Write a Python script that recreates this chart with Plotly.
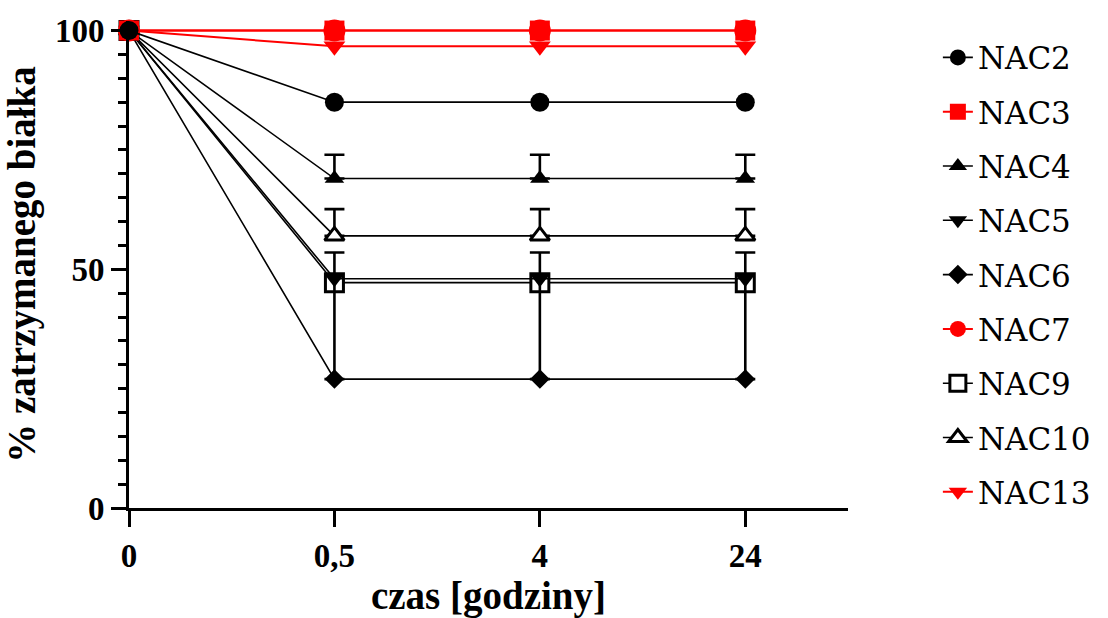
import plotly.graph_objects as go

x_labels = ["0", "0,5", "4", "24"]
x_pos = [0, 1, 2, 3]

nac2 = [100, 85, 85, 85]
nac3 = [100, 100, 100, 100]
nac4 = [100, 69, 69, 69]
nac5 = [100, 48, 48, 48]
nac6 = [100, 27, 27, 27]
nac7 = [100, 100, 100, 100]
nac9 = [100, 47.2, 47.2, 47.2]
nac10 = [100, 57, 57, 57]
nac13 = [100, 96.7, 96.7, 96.7]

err_nac4 = [0, 5, 5, 5]
err_nac6 = [0, 26.5, 26.5, 26.5]
err_nac10 = [0, 5.6, 5.6, 5.6]

BLACK = "#000000"
RED = "#ff0000"
FONT = "Times New Roman, Liberation Serif, DejaVu Serif, serif"
LEGFONT = "DejaVu Serif"

fig = go.Figure()


def add(name, rank, y, color, symbol, size, fill=None, mline=0, err=None, lw=1.6):
    err_y = None
    if err is not None:
        err_y = dict(type="data", symmetric=False, array=err, arrayminus=[0] * len(err),
                     color=BLACK, thickness=2.6, width=10)
    fig.add_trace(go.Scatter(
        x=x_pos, y=y, name=name, mode="lines+markers", legendrank=rank, legendgroup=name,
        line=dict(color=color, width=lw),
        marker=dict(symbol=symbol, size=size, color=fill if fill else color,
                    line=dict(color=color, width=mline)),
        error_y=err_y, cliponaxis=False,
    ))


# drawn in reverse order (last dataset at the bottom)
add("NAC13", 9, nac13, RED, "triangle-down", 19, lw=2)
add("NAC10", 8, nac10, BLACK, "triangle-up", 17, fill="white", mline=3, err=err_nac10)
add("NAC9", 7, nac9, BLACK, "square", 18, fill="white", mline=3)
add("NAC7", 6, nac7, RED, "circle", 22, lw=2)
add("NAC6", 5, nac6, BLACK, "diamond", 15, err=err_nac6)
add("NAC5", 4, nac5, BLACK, "triangle-down", 17)
add("NAC4", 3, nac4, BLACK, "triangle-up", 17, err=err_nac4)
add("NAC3", 2, nac3, RED, "square", 20, lw=2)
add("NAC2", 1, nac2, BLACK, "circle", 19)

fig.update_layout(
    width=1108, height=618,
    margin=dict(l=129, r=260, t=21, b=110, autoexpand=False),
    plot_bgcolor="white", paper_bgcolor="white",
    font=dict(family=FONT, color=BLACK),
    showlegend=True,
    legend=dict(x=1.125, y=0.98, xanchor="left", yanchor="top",
                traceorder="grouped", tracegroupgap=11, maxheight=610,
                font=dict(family=LEGFONT, size=31, color=BLACK),
                itemsizing="trace", itemwidth=30, bgcolor="rgba(0,0,0,0)"),
)

fig.update_xaxes(
    range=[0, 3.5], tickvals=x_pos, ticktext=x_labels,
    showline=True, linecolor=BLACK, linewidth=3,
    ticks="outside", ticklen=16, tickwidth=3, tickcolor=BLACK,
    showgrid=False, zeroline=False,
    tickfont=dict(family=FONT, size=33, color=BLACK, weight="bold"),
    title=dict(text="czas [godziny]", standoff=10,
               font=dict(family=FONT, size=39, color=BLACK, weight="bold")),
)
fig.update_yaxes(
    range=[0, 102], tickvals=[0, 50, 100],
    showline=True, linecolor=BLACK, linewidth=3,
    ticks="outside", ticklen=15, tickwidth=3, tickcolor=BLACK,
    minor=dict(dtick=5, ticks="outside", ticklen=8, tickwidth=3, tickcolor=BLACK),
    showgrid=False, zeroline=False,
    tickfont=dict(family=FONT, size=33, color=BLACK, weight="bold"),
    title=dict(text="% zatrzymanego białka", standoff=10,
               font=dict(family=FONT, size=39, color=BLACK, weight="bold")),
)

fig.write_html("out.html")
